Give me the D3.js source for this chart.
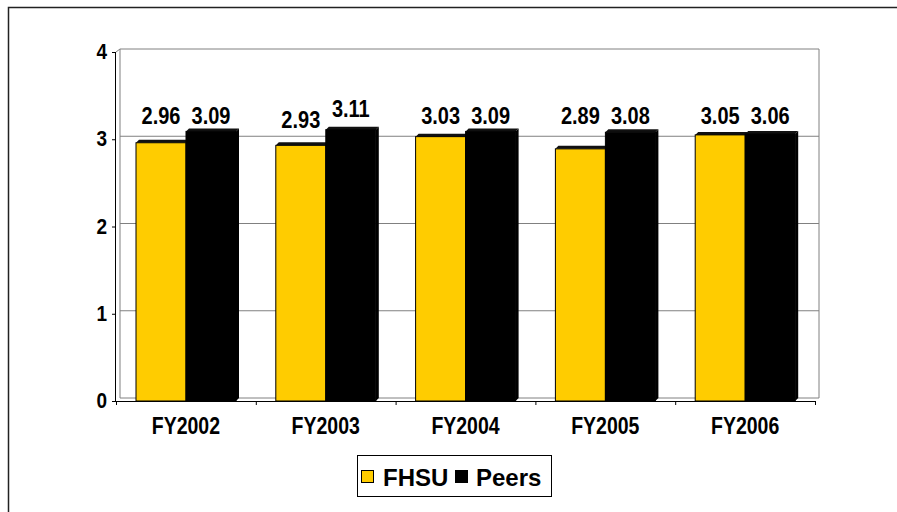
<!DOCTYPE html>
<html>
<head>
<meta charset="utf-8">
<script src="https://cdn.jsdelivr.net/npm/d3@7"></script>
<style>
  html, body { margin: 0; padding: 0; background: #fff; }
  svg { display: block; font-family: "Liberation Sans", Arial, sans-serif; }
</style>
</head>
<body>
<svg id="chart" width="897" height="512"></svg>
<script>
// Average GPA by fiscal year, FHSU vs. peer institutions
const categories = ["FY2002", "FY2003", "FY2004", "FY2005", "FY2006"];
const seriesNames = ["FHSU", "Peers"];
const fhsuValues = [2.96, 2.93, 3.03, 2.89, 3.05];
const peerValues = [3.09, 3.11, 3.09, 3.08, 3.06];
const yTickValues = [0, 1, 2, 3, 4];
const seriesColors = ["#FFCC00", "#000000"];

const svg = d3.select("#chart");

// outer frame
svg.append("rect")
  .attr("x", 8.5).attr("y", 7.5)
  .attr("width", 1000).attr("height", 1000)
  .attr("fill", "none").attr("stroke", "#222").attr("stroke-width", 1.5);

const plotLeft = 116, plotRight = 815, plotBottom = 401, plotTop = 52;
const depthX = 4, depthY = -3;

const y = d3.scaleLinear().domain([0, 4]).range([plotBottom, plotTop]);
const x0 = d3.scaleBand().domain(categories).range([plotLeft, plotRight]);
const x1 = d3.scaleBand().domain(seriesNames).range([20, 120]);
const edge = d3.scaleLinear().domain([0, categories.length]).range([plotLeft, plotRight]);

// back wall with gridlines
const wall = svg.append("g");
wall.selectAll("line.grid")
  .data(yTickValues)
  .join("line")
  .attr("x1", plotLeft + depthX).attr("x2", plotRight + depthX)
  .attr("y1", d => y(d) + depthY).attr("y2", d => y(d) + depthY)
  .attr("stroke", "#808080").attr("stroke-width", 1);
wall.append("line")
  .attr("x1", plotLeft + depthX).attr("x2", plotLeft + depthX)
  .attr("y1", y(4) + depthY).attr("y2", y(0) + depthY)
  .attr("stroke", "#808080");
wall.append("line")
  .attr("x1", plotRight + depthX).attr("x2", plotRight + depthX)
  .attr("y1", y(4) + depthY).attr("y2", y(0) + depthY)
  .attr("stroke", "#808080");
wall.append("line")
  .attr("x1", plotLeft).attr("x2", plotLeft + depthX)
  .attr("y1", y(4)).attr("y2", y(4) + depthY)
  .attr("stroke", "#808080");

// bars
const rows = categories.map((c, i) => ({ cat: c, vals: [fhsuValues[i], peerValues[i]] }));
const groups = svg.append("g").selectAll("g")
  .data(rows)
  .join("g")
  .attr("transform", d => `translate(${x0(d.cat)},0)`);

const bw = x1.bandwidth();
groups.each(function(d) {
  const g = d3.select(this);
  d.vals.forEach((v, k) => {
    const bx = x1(seriesNames[k]);
    const by = y(v);
    // side face
    g.append("polygon")
      .attr("points", [[bx + bw, by], [bx + bw + 3, by - 3], [bx + bw + 3, y(0) - 3], [bx + bw, y(0)]].join(" "))
      .attr("fill", "#000");
    // top face
    g.append("polygon")
      .attr("points", [[bx, by], [bx + 3, by - 3], [bx + bw + 3, by - 3], [bx + bw, by]].join(" "))
      .attr("fill", "#111");
    // front face
    g.append("rect")
      .attr("x", bx).attr("y", by)
      .attr("width", bw).attr("height", y(0) - by)
      .attr("fill", seriesColors[k])
      .attr("stroke", "#000").attr("stroke-width", 1);
  });
});

// value labels: sit on a common line above the tallest bars; a group whose
// bar rises past that line lifts its own label and drops the neighbour's
groups.each(function(d) {
  const g = d3.select(this);
  const hi = Math.max(...d.vals);
  d.vals.forEach((v, k) => {
    let base = y(Math.max(hi, 3.09)) - 7;
    if (hi > 3.1) base = (k === 1) ? y(v) - 12.6 : y(3.09) - 3;
    g.append("text")
      .attr("transform", `translate(${x1(seriesNames[k]) + bw / 2},${base}) scale(1,1.17)`)
      .attr("text-anchor", "middle")
      .attr("font-size", 20).attr("font-weight", "bold")
      .attr("fill", "#000")
      .text(d3.format(".2f")(v));
  });
});

// value axis
const yAxis = svg.append("g")
  .attr("transform", `translate(${plotLeft},0)`)
  .call(d3.axisLeft(y).tickValues(yTickValues).tickSize(4).tickPadding(5).tickFormat(d3.format("d")));
yAxis.select(".domain").attr("stroke", "#000").attr("d", `M-0.5,${y(4)}V${y(0)}`);
yAxis.selectAll(".tick line").attr("stroke", "#000");
yAxis.selectAll(".tick text")
  .attr("font-size", 19).attr("font-weight", "bold").attr("fill", "#000")
  .attr("font-family", "Liberation Sans, Arial, sans-serif")
  .attr("dy", null).attr("y", 0)
  .attr("transform", "translate(0,6.5) scale(1,1.15)");

// category axis: boundary ticks
const xAxis = svg.append("g")
  .attr("transform", `translate(0,${plotBottom})`)
  .call(d3.axisBottom(edge).tickValues(d3.range(categories.length + 1)).tickSize(4).tickFormat(""));
xAxis.select(".domain").attr("stroke", "#000").attr("d", `M${plotLeft - 4},0.5H${plotRight}`);
xAxis.selectAll(".tick line").attr("stroke", "#000");

// category labels
const xLabels = svg.append("g")
  .attr("transform", `translate(0,${plotBottom})`)
  .call(d3.axisBottom(x0).tickSize(0).tickPadding(0));
xLabels.select(".domain").remove();
xLabels.selectAll(".tick text")
  .attr("font-size", 19.5).attr("font-weight", "bold").attr("fill", "#000")
  .attr("font-family", "Liberation Sans, Arial, sans-serif")
  .attr("dy", null).attr("y", 0)
  .attr("transform", "translate(0,33) scale(1,1.2)");

// legend
const legend = svg.append("g").attr("transform", "translate(357,455)");
legend.append("rect")
  .attr("x", 0.5).attr("y", 0.5).attr("width", 194).attr("height", 41)
  .attr("fill", "#fff").attr("stroke", "#000").attr("stroke-width", 1);
const items = [
  { name: seriesNames[0], color: seriesColors[0], sx: 4, tx: 26 },
  { name: seriesNames[1], color: seriesColors[1], sx: 98, tx: 119 }
];
items.forEach(it => {
  legend.append("rect")
    .attr("x", it.sx + 0.5).attr("y", 15.5).attr("width", 12).attr("height", 12)
    .attr("fill", it.color).attr("stroke", "#000");
  legend.append("text")
    .attr("x", it.tx).attr("y", 31)
    .attr("font-size", 24).attr("font-weight", "bold").attr("fill", "#000")
    .text(it.name);
});
</script>
</body>
</html>
